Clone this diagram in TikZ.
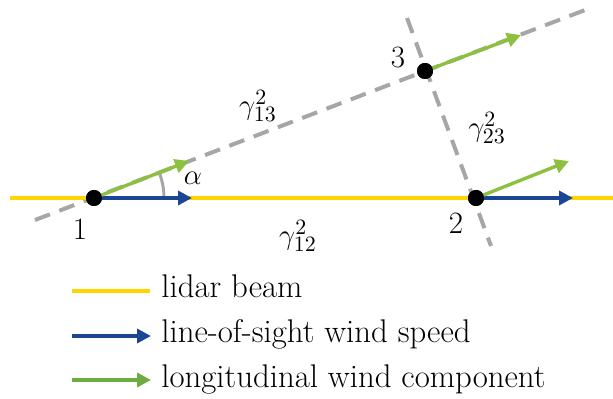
\documentclass[tikz,border=0pt]{standalone}
\usetikzlibrary{arrows.meta}
\definecolor{beam}{HTML}{FFD500}
\definecolor{los}{HTML}{1B4595}
\definecolor{lon}{HTML}{8DC03F}
\definecolor{lonleg}{HTML}{6DAB43}
\definecolor{dgray}{HTML}{A6A6A6}
\tikzset{
  beamline/.style={draw=beam,line width=2pt},
  losarrow/.style={draw=los,line width=1.7pt,-{Triangle[length=7pt,width=7pt]}},
  lonarrow/.style={draw=lon,line width=1.7pt,-{Triangle[length=7pt,width=7pt]}},
  lonlegarrow/.style={draw=lonleg,line width=1.7pt,-{Triangle[length=7pt,width=7pt]}},
  dashline/.style={draw=dgray,line width=2pt,dash pattern=on 8pt off 5pt},
  pt/.style={circle,fill=black,inner sep=0pt,minimum size=8pt},
  lbl/.style={font=\fontsize{15.5}{18}\selectfont},
  leg/.style={font=\fontsize{16.4}{19}\selectfont,anchor=base west,inner sep=0pt},
}
\begin{document}
\begin{tikzpicture}[x=0.5pt,y=-0.5pt]
\useasboundingbox (0,0) rectangle (613,399);
% dashed lines
\coordinate (d13a) at (35,220);
\coordinate (d13b) at (593,7);
\coordinate (d23a) at (407,18);
\coordinate (d23b) at (491,246);
\draw[dashline] (d13a) -- (d13b);
\draw[dashline] (d23a) -- (d23b);
% beam
\coordinate (ba) at (10,198);
\coordinate (bb) at (613,198);
\draw[beamline] (ba) -- (bb);
% angle arc
\draw[dgray,line width=1.5pt] (94,198) ++(0:70) arc[start angle=0,end angle=21,radius=35pt];
% points
\node[pt] (p1) at (94,198) {};
\node[pt] (p2) at (476,198) {};
\node[pt] (p3) at (425,71) {};
% arrow ends
\coordinate (g1) at (189,161);
\coordinate (b1) at (192,198);
\coordinate (g2) at (569,161);
\coordinate (b2) at (573,198);
\coordinate (g3) at (521,35);
\draw[losarrow] (p1.center) -- (b1);
\draw[losarrow] (p2.center) -- (b2);
\draw[lonarrow] (p1.center) -- (g1);
\draw[lonarrow] (p2.center) -- (g2);
\draw[lonarrow] (p3.center) -- (g3);
\node[pt] at (94,198) {};
\node[pt] at (476,198) {};
\node[pt] at (425,71) {};
% labels
\node[lbl] (l1) at (80,229) {1};
\node[lbl] (l2) at (456,223) {2};
\node[lbl] (l3) at (398,58) {3};
\node[lbl] (la) at (193,178) {$\alpha$};
\node[lbl] (g13) at (258,106) {$\gamma^2_{13}$};
\node[lbl] (g23) at (487,128) {$\gamma^2_{23}$};
\node[lbl] (g12) at (298,236) {$\gamma^2_{12}$};
% legend
\coordinate (la1) at (72,291);
\coordinate (la2) at (150,291);
\coordinate (lb1) at (72,336);
\coordinate (lb2) at (151,336);
\coordinate (lc1) at (72,380);
\coordinate (lc2) at (151,380);
\draw[beamline] (la1) -- (la2);
\draw[losarrow] (lb1) -- (lb2);
\draw[lonlegarrow] (lc1) -- (lc2);
\node[leg] (t1) at (161,298) {lidar beam};
\node[leg] (t2) at (161,343) {line-of-sight wind speed};
\node[leg] (t3) at (161,387) {longitudinal wind component};
\end{tikzpicture}
\end{document}
